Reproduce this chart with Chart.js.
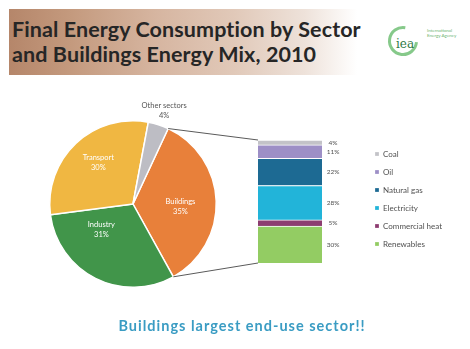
<!DOCTYPE html>
<html>
<head>
<meta charset="utf-8">
<script src="https://cdn.jsdelivr.net/npm/chart.js@4.4.0/dist/chart.umd.min.js"></script>
<style>
  body { margin: 0; background: #fff; width: 470px; height: 349px; overflow: hidden; position: relative; font-family: Lato, "Open Sans", sans-serif; }
  .banner { position: absolute; left: 9px; top: 9px; width: 348px; height: 66px;
    background: linear-gradient(90deg, #b5866a 0%, #c49a7e 18%, #d6b5a0 42%, #e1c9b9 65%, #eee2da 85%, rgba(255,255,255,0) 100%); }
  h1 { position: absolute; left: 12px; top: 17px; margin: 0; font-size: 21.5px; letter-spacing: 0.1px; line-height: 25px; font-weight: bold; color: #262626; white-space: nowrap; }
  .logo { position: absolute; left: 385px; top: 22px; }
  canvas { position: absolute; left: 0; top: 0; }
  .note { position: absolute; left: 0; top: 318px; width: 484px; text-align: center; font-size: 14.5px; letter-spacing: 1px; line-height: 16px; font-weight: bold; color: #3a9cc3; }
</style>
</head>
<body>
<div class="banner"></div>
<h1>Final Energy Consumption by Sector<br>and Buildings Energy Mix, 2010</h1>
<svg class="logo" width="80" height="40" viewBox="0 0 80 40">
  <path d="M 20.3 5.7 A 13.5 13.5 0 1 0 31.45 20.2" fill="none" stroke="#86c98a" stroke-width="3"/>
  <text x="20" y="26" text-anchor="middle" font-family="DejaVu Serif" font-size="12" fill="#2f7a45">iea</text>
  <text x="42" y="10" font-family="Lato" font-size="4.5" fill="#6cb46f">International</text>
  <text x="42" y="15" font-family="Lato" font-size="4.5" fill="#6cb46f">Energy Agency</text>
</svg>
<canvas id="sectors" width="470" height="349"></canvas>
<canvas id="mix" width="470" height="349"></canvas>
<div class="note">Buildings largest end-use sector!!</div>
<script>
// Final energy consumption by sector, % of total
var sectorNames = ['Buildings', 'Industry', 'Transport', 'Other sectors'];
var sectorShares = [35, 31, 30, 4];
var sectorColors = ['#e8803a', '#41954a', '#f0b742', '#bdbdc4'];

// Buildings energy mix, listed top to bottom of the stack
var mixNames = ['Coal', 'Oil', 'Natural gas', 'Electricity', 'Commercial heat', 'Renewables'];
var mixShares = [4, 11, 22, 28, 5, 30];
var mixColors = ['#c3c3c8', '#9d8fc6', '#1d6a93', '#22b4d9', '#8c3c70', '#93cc63'];

// where each slice label sits: [angle shift in degrees, fraction of radius]
var sectorLabelSpots = [[5, 0.57], [24, 0.49], [3.5, 0.65], [0.7, 1.18]];


// Pie labels: name on one line, share underneath
var sliceLabels = {
  id: 'sliceLabels',
  afterDatasetsDraw: function (chart) {
    var ctx = chart.ctx;
    var arcs = chart.getDatasetMeta(0).data;
    ctx.save();
    ctx.textAlign = 'center';
    ctx.textBaseline = 'middle';
    ctx.font = '7.5px Lato';
    arcs.forEach(function (arc, i) {
      var p = arc.getProps(['x', 'y', 'startAngle', 'endAngle', 'outerRadius'], true);
      var spot = sectorLabelSpots[i];
      var a = (p.startAngle + p.endAngle) / 2 + spot[0] * Math.PI / 180;
      var r = p.outerRadius * spot[1];
      var x = p.x + Math.cos(a) * r;
      var y = p.y + Math.sin(a) * r;
      ctx.fillStyle = spot[1] > 1 ? '#555' : '#fff';
      ctx.fillText(sectorNames[i], x, y - 5);
      ctx.fillText(sectorShares[i] + '%', x, y + 5);
    });
    ctx.restore();
  }
};

var pieChart = new Chart(document.getElementById('sectors'), {
  type: 'pie',
  data: {
    labels: sectorNames,
    datasets: [{
      data: sectorShares,
      backgroundColor: sectorColors,
      borderColor: '#fff',
      borderWidth: 1.5
    }]
  },
  options: {
    responsive: false,
    animation: false,
    rotation: 25,
    layout: { padding: { left: 49, top: 120, right: 253, bottom: 61 } },
    plugins: {
      legend: { display: false },
      tooltip: { enabled: false }
    }
  },
  plugins: [sliceLabels]
});


// Lines from the buildings slice out to the stacked bar
var zoomLines = {
  id: 'zoomLines',
  beforeDatasetsDraw: function (chart) {
    var ctx = chart.ctx;
    var arc = pieChart.getDatasetMeta(0).data[0].getProps(['x', 'y', 'startAngle', 'endAngle', 'outerRadius'], true);
    var bar = chart.getDatasetMeta(0).data[0];
    var left = bar.x - bar.width / 2;
    var top = chart.scales.y.getPixelForValue(100);
    var bottom = chart.scales.y.getPixelForValue(0);
    ctx.save();
    ctx.strokeStyle = '#5a5a5a';
    ctx.lineWidth = 1;
    ctx.beginPath();
    ctx.moveTo(arc.x + Math.cos(arc.startAngle) * arc.outerRadius, arc.y + Math.sin(arc.startAngle) * arc.outerRadius);
    ctx.lineTo(left, top);
    ctx.moveTo(arc.x + Math.cos(arc.endAngle) * arc.outerRadius, arc.y + Math.sin(arc.endAngle) * arc.outerRadius);
    ctx.lineTo(left, bottom);
    ctx.stroke();
    ctx.restore();
  }
};

// Share labels to the right of each bar segment
var segmentLabels = {
  id: 'segmentLabels',
  afterDatasetsDraw: function (chart) {
    var ctx = chart.ctx;
    ctx.save();
    ctx.textAlign = 'center';
    ctx.textBaseline = 'middle';
    ctx.font = '6.5px Lato';
    ctx.fillStyle = '#505050';
    chart.data.datasets.forEach(function (ds, i) {
      var bar = chart.getDatasetMeta(i).data[0];
      ctx.fillText(ds.data[0] + '%', bar.x + bar.width / 2 + 11, (bar.y + bar.base) / 2);
    });
    ctx.restore();
  }
};

// stack is built bottom-up, so the lists are reversed
var mixLayers = mixNames.map(function (name, i) {
  return {
    label: name,
    data: [mixShares[i]],
    backgroundColor: mixColors[i],
    borderColor: '#fff',
    borderWidth: { top: 1 }
  };
}).reverse();

var mixChart = new Chart(document.getElementById('mix'), {
  type: 'bar',
  data: {
    labels: ['Buildings'],
    datasets: mixLayers
  },
  options: {
    responsive: false,
    animation: false,
    layout: { padding: { left: 215, top: 140, right: 25, bottom: 86 } },
    datasets: { bar: { barThickness: 64 } },
    scales: {
      x: { display: false, stacked: true },
      y: { display: false, stacked: true, min: 0, max: 100 }
    },
    plugins: {
      legend: {
        position: 'right',
        align: 'start',
        reverse: true,
        maxWidth: 80,
        labels: {
          boxWidth: 4,
          boxHeight: 4,
          padding: 10,
          color: '#505050',
          font: { family: 'Lato', size: 8 }
        }
      },
      tooltip: { enabled: false }
    }
  },
  plugins: [zoomLines, segmentLabels]
});
</script>
</body>
</html>
